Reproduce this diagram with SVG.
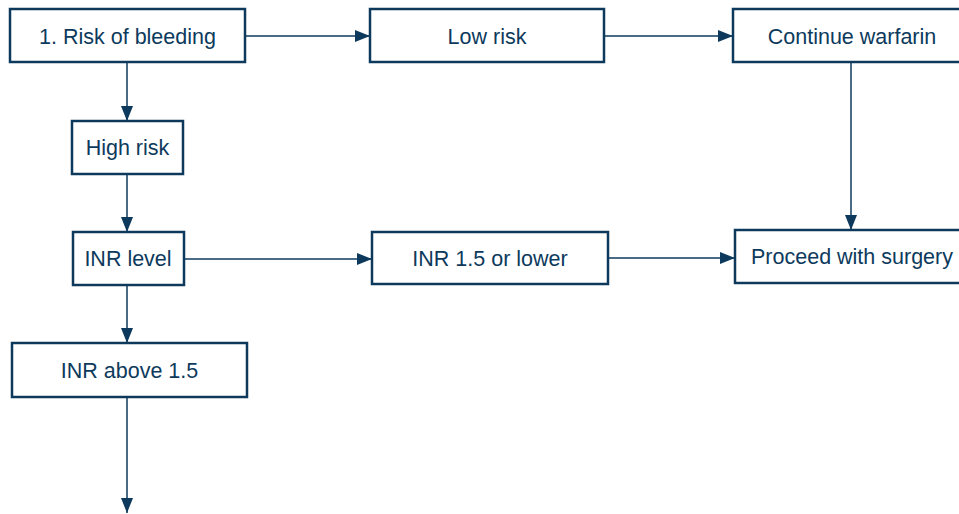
<svg xmlns="http://www.w3.org/2000/svg" width="959" height="514" viewBox="0 0 959 514">
<defs>
<marker id="ah" markerUnits="userSpaceOnUse" markerWidth="15" markerHeight="12" refX="15" refY="6" orient="auto">
<path d="M0,0 L15,6 L0,12 z" fill="#0d3a5c"/>
</marker>
<style>
.box{fill:#fff;stroke:#0d3a5c;stroke-width:2.5}
.t{font-family:"Liberation Sans",Arial,sans-serif;font-size:21.5px;fill:#0d3a5c;text-anchor:middle}
.c{stroke:#0d3a5c;stroke-width:1.5;fill:none;marker-end:url(#ah)}
</style>
</defs>
<rect width="959" height="514" fill="#fff"/>
<g id="connectors">
<line class="c" x1="245" y1="36" x2="370" y2="36"/>
<line class="c" x1="604" y1="36" x2="733" y2="36"/>
<line class="c" x1="851" y1="62" x2="851" y2="230"/>
<line class="c" x1="127" y1="62" x2="127" y2="121"/>
<line class="c" x1="127" y1="174" x2="127" y2="232"/>
<line class="c" x1="184" y1="259" x2="372" y2="259"/>
<line class="c" x1="608" y1="258" x2="735" y2="258"/>
<line class="c" x1="127" y1="285" x2="127" y2="343"/>
<line class="c" x1="127" y1="397" x2="127" y2="513"/>
</g>
<g id="n1"><rect class="box" x="10" y="9" width="235" height="53"/><text class="t" x="127.5" y="43.5">1. Risk of bleeding</text></g>
<g id="n2"><rect class="box" x="370" y="9" width="234" height="53"/><text class="t" x="487" y="43.5">Low risk</text></g>
<g id="n3"><rect class="box" x="733" y="9" width="236" height="53"/><text class="t" x="852" y="43.5">Continue warfarin</text></g>
<g id="n4"><rect class="box" x="72" y="121" width="111" height="53"/><text class="t" x="127.5" y="155">High risk</text></g>
<g id="n5"><rect class="box" x="73" y="232" width="111" height="53"/><text class="t" x="128" y="266">INR level</text></g>
<g id="n6"><rect class="box" x="372" y="232" width="236" height="52"/><text class="t" x="490" y="265.5">INR 1.5 or lower</text></g>
<g id="n7"><rect class="box" x="735" y="230" width="236" height="53"/><text class="t" x="852" y="263.5">Proceed with surgery</text></g>
<g id="n8"><rect class="box" x="12" y="343" width="235" height="54"/><text class="t" x="129.5" y="377.5">INR above 1.5</text></g>
</svg>
